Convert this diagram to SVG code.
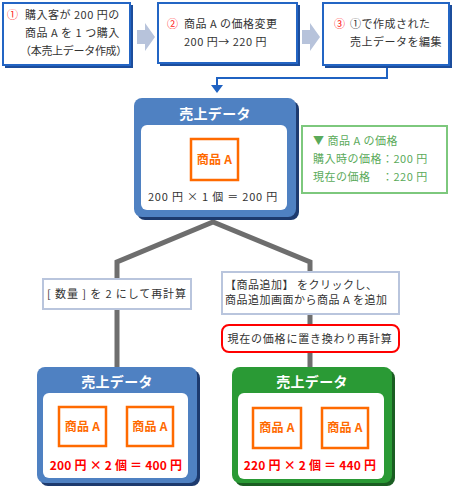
<svg xmlns="http://www.w3.org/2000/svg" width="456" height="487" viewBox="0 0 456 487">
<defs>
<style>
text{font-family:"Noto Sans CJK JP","Liberation Sans",sans-serif;font-size:11px;fill:#333;letter-spacing:0.5px}
.num{fill:#ff2020}
.step{fill:#fff;stroke:#2365c4;stroke-width:2}
.stepsh{fill:#1c4d9c}
.chev{fill:#b7c3db}
.title{fill:#fff;font-weight:bold;font-size:14px;letter-spacing:0.3px}
.inner{fill:#fff}
.prod{fill:#fff;stroke:#ff6a00;stroke-width:2.5}
.prodt{fill:#ff6a00;font-weight:bold;font-size:12px;letter-spacing:0.3px}
.red{fill:#ff0000;font-weight:bold;font-size:12px;letter-spacing:0.2px}
.lbl{fill:#fff;stroke:#b9c5dd;stroke-width:2}
.grn{fill:#5aaa5a}
</style>
</defs>
<g id="connectors">
<polyline points="117,367 117,262 213,222 310,262 310,367" fill="none" stroke="#6e6e6e" stroke-width="5" stroke-linejoin="miter"/>
<polyline points="387,66 387,78 217,78 217,86" fill="none" stroke="#1f62c2" stroke-width="2"/>
<polygon points="211,85 223,85 217,93" fill="#1f62c2"/>
<polygon class="chev" points="137,30 145,30 145,23 155,37 145,51 145,44 137,44"/>
<polygon class="chev" points="302,30 310,30 310,23 320,37 310,51 310,44 302,44"/>
</g>
<g id="step1">
<rect class="stepsh" x="5" y="5" width="128" height="63"/>
<rect class="step" x="3" y="3" width="127" height="62"/>
<text x="7" y="19" class="num">①</text>
<text x="25" y="19">購入客が 200 円の</text>
<text x="25" y="37">商品 A を 1 つ購入</text>
<text x="20" y="55" style="letter-spacing:-0.3px">（本売上データ作成）</text>
</g>
<g id="step2">
<rect class="stepsh" x="160" y="5" width="140" height="61"/>
<rect class="step" x="158" y="3" width="139" height="60"/>
<text x="167" y="28" class="num">②</text>
<text x="184" y="28">商品 A の価格変更</text>
<text x="184" y="46">200 円→ 220 円</text>
</g>
<g id="step3">
<rect class="stepsh" x="325" y="5" width="127" height="63"/>
<rect class="step" x="323" y="3" width="126" height="62"/>
<text x="334" y="28" class="num">③</text>
<text x="350" y="28">①で作成された</text>
<text x="350" y="46">売上データを編集</text>
</g>
<g id="main">
<rect x="137" y="101" width="162" height="119" rx="8" fill="#1d3a6e"/>
<rect x="134" y="98" width="162" height="119" rx="8" fill="#4f81c2"/>
<text x="215" y="119" class="title" text-anchor="middle">売上データ</text>
<rect class="inner" x="141" y="125" width="146" height="85" rx="6"/>
<rect class="prod" x="191" y="139" width="47" height="41"/>
<text x="214.5" y="164" class="prodt" text-anchor="middle">商品 A</text>
<text x="213" y="201" text-anchor="middle" fill="#111" style="letter-spacing:0.8px">200 円 × 1 個 ＝ 200 円</text>
</g>
<g id="price">
<rect x="302" y="126" width="145" height="67" fill="#fff" stroke="#7dc87d" stroke-width="2"/>
<text x="313" y="145" class="grn">▼ 商品 A の価格</text>
<text x="313" y="163" class="grn">購入時の価格：200 円</text>
<text x="313" y="181" class="grn">現在の価格　：220 円</text>
</g>
<g id="label-left">
<rect class="lbl" x="43" y="279" width="148" height="30"/>
<text x="47" y="298" style="letter-spacing:0.9px">[ 数量 ] を 2 にして再計算</text>
</g>
<g id="label-right">
<rect class="lbl" x="222" y="272" width="177" height="42"/>
<text x="225" y="289">【商品追加】 をクリックし、</text>
<text x="225" y="304">商品追加画面から商品 A を追加</text>
</g>
<g id="recalc">
<rect x="222" y="325" width="177" height="27" rx="7" fill="#fff" stroke="#ff0000" stroke-width="2"/>
<text x="310" y="343" text-anchor="middle" fill="#ff0000" style="letter-spacing:0.8px">現在の価格に置き換わり再計算</text>
</g>
<g id="result-left">
<rect x="40" y="370" width="160" height="116" rx="8" fill="#1d3a6e"/>
<rect x="37" y="367" width="160" height="116" rx="8" fill="#4f81c2"/>
<text x="117" y="387" class="title" text-anchor="middle">売上データ</text>
<rect class="inner" x="43" y="393" width="145" height="85" rx="6"/>
<rect class="prod" x="59" y="407" width="47" height="39"/>
<text x="82.5" y="431" class="prodt" text-anchor="middle">商品 A</text>
<rect class="prod" x="127" y="407" width="46" height="39"/>
<text x="150" y="431" class="prodt" text-anchor="middle">商品 A</text>
<text x="116" y="470" class="red" text-anchor="middle">200 円 × 2 個 ＝ 400 円</text>
</g>
<g id="result-right">
<rect x="235" y="370" width="160" height="116" rx="8" fill="#1a5e22"/>
<rect x="232" y="367" width="160" height="116" rx="8" fill="#2a9a35"/>
<text x="312" y="387" class="title" text-anchor="middle">売上データ</text>
<rect class="inner" x="238" y="393" width="146" height="86" rx="6"/>
<rect class="prod" x="253" y="408" width="48" height="40"/>
<text x="277" y="432" class="prodt" text-anchor="middle">商品 A</text>
<rect class="prod" x="322" y="408" width="46" height="40"/>
<text x="345" y="432" class="prodt" text-anchor="middle">商品 A</text>
<text x="310" y="470" class="red" text-anchor="middle">220 円 × 2 個 ＝ 440 円</text>
</g>
</svg>
